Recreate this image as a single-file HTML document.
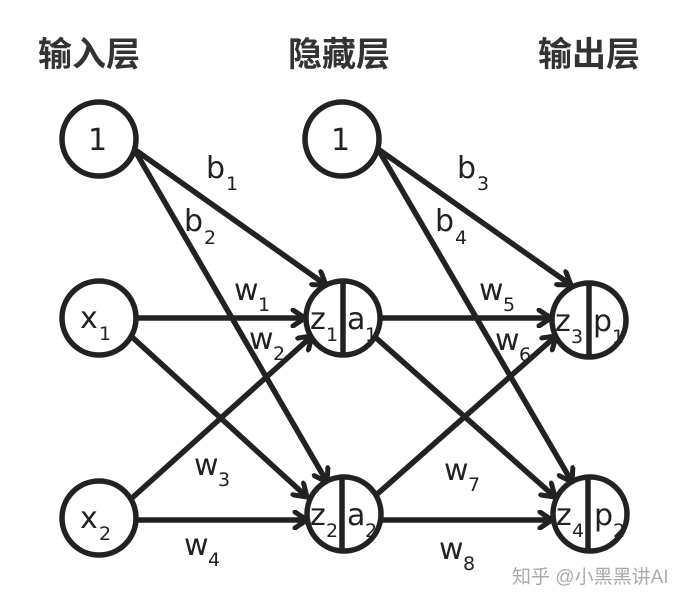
<!DOCTYPE html>
<html><head><meta charset="utf-8"><style>
html,body{margin:0;padding:0;background:#fff;width:698px;height:605px;overflow:hidden}
svg{display:block}
text{font-family:"DejaVu Sans","Liberation Sans",sans-serif;fill:#222}
.t{font-family:"Liberation Sans","Noto Sans CJK SC",sans-serif;font-size:34px;font-weight:bold;fill:#333}
.l{font-size:30px}
.s{font-size:19px}
</style></head><body>
<svg width="698" height="605" viewBox="0 0 698 605" xmlns="http://www.w3.org/2000/svg">
<defs>
<marker id="a" viewBox="0 0 20 20" refX="18" refY="10" markerWidth="20" markerHeight="20" markerUnits="userSpaceOnUse" orient="auto">
<polyline points="6,2 18,10 6,18" fill="none" stroke="#222" stroke-width="5" stroke-linecap="round"/>
</marker>
</defs>
<text class="t" x="38" y="66">输入层</text>
<text class="t" x="288" y="66">隐藏层</text>
<text class="t" x="538" y="66">输出层</text>
<g stroke="#222" stroke-width="5.5" fill="none" marker-end="url(#a)">
<line x1="134" y1="149" x2="326" y2="285"/>
<line x1="134" y1="149" x2="327" y2="482"/>
<line x1="136" y1="318" x2="305" y2="318"/>
<line x1="132" y1="337" x2="307" y2="497"/>
<line x1="132" y1="498" x2="312" y2="336"/>
<line x1="136" y1="520" x2="307" y2="520"/>
<line x1="378" y1="149" x2="571" y2="285"/>
<line x1="378" y1="149" x2="572" y2="482"/>
<line x1="379" y1="318" x2="551" y2="318"/>
<line x1="375" y1="337" x2="555" y2="497"/>
<line x1="375" y1="496" x2="556" y2="336"/>
<line x1="381" y1="520" x2="552" y2="520"/>
</g>
<g stroke="#222" stroke-width="5.5" fill="#fff">
<circle cx="99" cy="139" r="37"/>
<circle cx="99" cy="318" r="37"/>
<circle cx="99" cy="518" r="37"/>
<circle cx="342" cy="139" r="37"/>
<circle cx="343" cy="318" r="37"/>
<circle cx="344" cy="514" r="37"/>
<circle cx="589" cy="320" r="37"/>
<circle cx="590" cy="514" r="37"/>
<line x1="343" y1="281" x2="343" y2="355"/>
<line x1="342" y1="477" x2="342" y2="551"/>
<line x1="589" y1="283" x2="589" y2="357"/>
<line x1="588" y1="477" x2="588" y2="551"/>
</g>
<g class="l">
<text x="88" y="150">1</text>
<text x="331" y="150">1</text>
<text x="80" y="328">x</text><text class="s" x="99" y="340">1</text>
<text x="80" y="528">x</text><text class="s" x="99" y="540">2</text>
<text x="310" y="329">z</text><text class="s" x="326" y="341">1</text>
<text x="347" y="329">a</text><text class="s" x="365" y="341">1</text>
<text x="555" y="331">z</text><text class="s" x="571" y="343">3</text>
<text x="593" y="331">p</text><text class="s" x="612" y="343">1</text>
<text x="310" y="525">z</text><text class="s" x="326" y="537">2</text>
<text x="347" y="525">a</text><text class="s" x="365" y="537">2</text>
<text x="556" y="525">z</text><text class="s" x="572" y="537">4</text>
<text x="594" y="525">p</text><text class="s" x="613" y="537">2</text>
<text x="206" y="178">b</text><text class="s" x="226" y="190">1</text>
<text x="184" y="231">b</text><text class="s" x="204" y="244">2</text>
<text x="234" y="300">w</text><text class="s" x="258" y="311">1</text>
<text x="249" y="349">w</text><text class="s" x="273" y="360">2</text>
<text x="194" y="475">w</text><text class="s" x="218" y="486">3</text>
<text x="184" y="555">w</text><text class="s" x="208" y="566">4</text>
<text x="457" y="178">b</text><text class="s" x="477" y="190">3</text>
<text x="435" y="231">b</text><text class="s" x="455" y="244">4</text>
<text x="479" y="300">w</text><text class="s" x="503" y="311">5</text>
<text x="495" y="350">w</text><text class="s" x="519" y="361">6</text>
<text x="444" y="480">w</text><text class="s" x="468" y="491">7</text>
<text x="439" y="559">w</text><text class="s" x="463" y="570">8</text>
</g>
<text x="512" y="583" style="font-family:'Liberation Sans','Noto Sans CJK SC',sans-serif;font-size:19px;fill:#aaa">知乎 @小黑黑讲AI</text>
</svg>
</body></html>
